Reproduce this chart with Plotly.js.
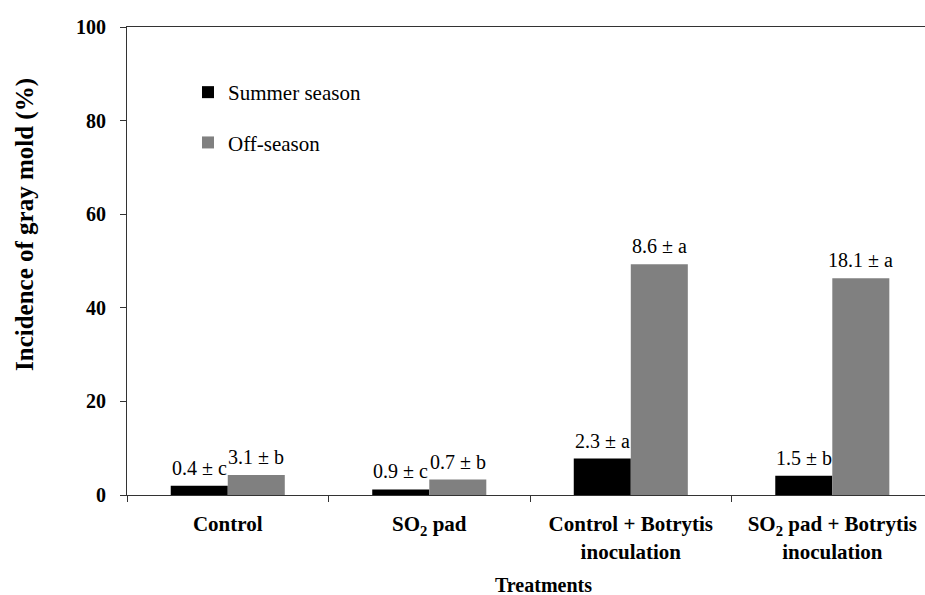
<!DOCTYPE html>
<html>
<head>
<meta charset="utf-8">
<script src="https://cdn.plot.ly/plotly-3.0.1.min.js"></script>
<style>html,body{margin:0;padding:0;background:#fff;}#chart{width:925px;height:595px;}</style>
</head>
<body>
<div id="chart"></div>
<script>
var categories = ["Control", "SO<sub>2</sub> pad", "Control + Botrytis<br>inoculation", "SO<sub>2</sub> pad + Botrytis<br>inoculation"];
var summerValues = [2.0, 1.2, 7.8, 4.1];
var offValues = [4.3, 3.3, 49.3, 46.3];
var summerLabels = ["0.4 \u00b1 c", "0.9 \u00b1 c", "2.3 \u00b1 a", "1.5 \u00b1 b"];
var offLabels = ["3.1 \u00b1 b", "0.7 \u00b1 b", "8.6 \u00b1 a", "18.1 \u00b1 a"];
var seriesNames = ["Summer season", "Off-season"];
var yTicks = [0, 20, 40, 60, 80, 100];

var serif = "'Liberation Serif'";
var bargap = 0.434;
var off = (1 - bargap) / 4;

var traces = [
  {type: "bar", name: seriesNames[0], x: categories, y: summerValues, marker: {color: "#000000"}, legendgroup: "a", hoverinfo: "y"},
  {type: "bar", name: seriesNames[1], x: categories, y: offValues, marker: {color: "#808080"}, legendgroup: "b", hoverinfo: "y"}
];

var annotations = [];
for (var i = 0; i < categories.length; i++) {
  annotations.push({x: i - off, y: summerValues[i], xref: "x", yref: "y", text: summerLabels[i], showarrow: false, yanchor: "bottom", yshift: 5, font: {family: serif, size: 20, color: "#000"}});
  annotations.push({x: i + off, y: offValues[i], xref: "x", yref: "y", text: offLabels[i], showarrow: false, yanchor: "bottom", yshift: 5, font: {family: serif, size: 20, color: "#000"}});
}
annotations.push({xref: "paper", yref: "paper", x: (25 - 127) / 798, y: (495 - 225) / 468, text: "Incidence of gray mold (%)", textangle: -90, showarrow: false, xanchor: "center", yanchor: "middle", font: {family: serif, size: 25, color: "#000", weight: "bold"}});
annotations.push({xref: "paper", yref: "paper", x: (543 - 127) / 798, y: -(585 - 495) / 468, text: "Treatments", showarrow: false, xanchor: "center", yanchor: "middle", font: {family: serif, size: 20, color: "#000", weight: "bold"}});

var layout = {
  width: 925, height: 595,
  margin: {l: 127, r: 0, t: 27, b: 100, pad: 0},
  paper_bgcolor: "#fff", plot_bgcolor: "#fff",
  barmode: "group", bargap: bargap, bargroupgap: 0,
  showlegend: true,
  legend: {x: (188 - 127) / 798, y: 1 - (72 - 27) / 468, xanchor: "left", yanchor: "top", bgcolor: "rgba(0,0,0,0)", font: {family: serif, size: 21, color: "#000"}, tracegroupgap: 20, traceorder: "grouped"},
  xaxis: {type: "category", range: [-0.5, 3.46], showline: true, mirror: true, linecolor: "#333", linewidth: 1, ticks: "outside", tickson: "boundaries", ticklen: 6, tickcolor: "#333", showgrid: false, zeroline: false, ticklabelstandoff: 10, tickfont: {family: serif, size: 21, color: "#000", weight: "bold"}},
  yaxis: {range: [0, 100], tickvals: yTicks, showline: true, linecolor: "#333", linewidth: 1, ticks: "outside", ticklen: 6, tickcolor: "#333", showgrid: false, zeroline: false, ticklabelstandoff: 10, tickfont: {family: serif, size: 20, color: "#000", weight: "bold"}},
  annotations: annotations
};

Plotly.newPlot("chart", traces, layout, {displayModeBar: false, staticPlot: true});
</script>
</body>
</html>
